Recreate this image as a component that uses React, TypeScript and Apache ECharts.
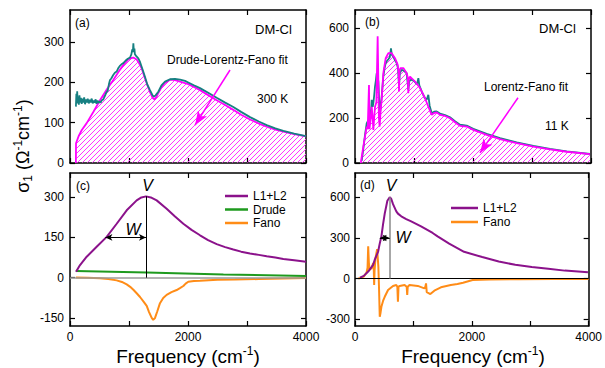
import React, { useEffect, useRef } from 'react';
import * as echarts from 'echarts';

const FONT = '"Liberation Sans", Arial, Helvetica, sans-serif';

// ---------- Panel (a): DM-Cl 300 K ----------
const expA: [number, number][] = [
  [100, 140], [108, 172], [115, 150], [122, 178], [130, 148], [140, 165], [150, 145], [160, 168],
  [172, 150], [185, 162], [198, 147], [210, 160], [225, 150], [240, 163], [255, 146], [270, 158],
  [285, 150], [300, 160], [318, 148], [335, 157], [350, 150], [368, 160], [385, 148], [400, 155],
  [418, 150], [435, 158], [450, 147], [468, 155], [485, 149], [500, 153], [520, 150], [540, 156],
  [565, 158], [590, 166], [615, 175], [640, 180], [660, 196], [678, 206], [700, 210], [730, 218],
  [760, 224], [791, 227], [820, 236], [850, 242], [880, 246], [904, 248], [940, 254], [980, 259],
  [1017, 262], [1040, 270], [1055, 282], [1065, 275], [1074, 297], [1082, 278], [1092, 284],
  [1100, 270], [1120, 266], [1158, 260], [1187, 251], [1230, 232], [1271, 214], [1310, 195],
  [1356, 181], [1400, 168], [1424, 165], [1450, 168], [1497, 177], [1550, 193], [1610, 202],
  [1695, 208], [1780, 209], [1865, 207], [1950, 204], [2005, 200], [2100, 193], [2204, 186],
  [2350, 174], [2486, 162], [2630, 150], [2768, 139], [2900, 127], [3051, 114], [3200, 103],
  [3334, 94], [3480, 86], [3616, 80], [3800, 73], [4000, 67],
];
const fitA: [number, number][] = [
  [100, 0], [102, 49], [150, 68], [200, 82], [283, 99], [400, 128], [508, 156], [620, 182],
  [734, 206], [848, 232], [904, 243], [989, 257], [1045, 261], [1074, 262], [1130, 257],
  [1158, 251], [1215, 235], [1271, 210], [1300, 198], [1356, 176], [1400, 162], [1430, 158],
  [1469, 165], [1497, 174], [1554, 189], [1610, 199], [1695, 207], [1780, 206], [1865, 202],
  [2005, 196], [2100, 189], [2204, 181], [2350, 168], [2486, 156], [2630, 144], [2768, 132],
  [2900, 120], [3051, 108], [3200, 98], [3334, 90], [3480, 83], [3616, 78], [3800, 72], [4000, 66],
];

// ---------- Panel (b): DM-Cl 11 K ----------
const expB: [number, number][] = [
  [113, 10], [140, 60], [170, 125], [198, 176], [226, 191], [240, 175], [254, 236], [270, 215],
  [283, 281], [300, 250], [311, 266], [325, 300], [339, 340], [355, 370], [367, 399], [380, 390],
  [396, 362], [410, 280], [424, 221], [440, 260], [452, 295], [466, 340], [480, 384], [500, 420],
  [520, 444], [545, 455], [565, 461], [590, 470], [610, 510], [625, 480], [650, 473], [680, 455],
  [706, 444], [730, 420], [746, 340], [760, 400], [791, 414], [830, 410], [876, 399], [904, 325],
  [920, 365], [960, 370], [1010, 362], [1050, 350], [1074, 377], [1090, 345], [1130, 318],
  [1180, 290], [1215, 281], [1243, 303], [1265, 255], [1300, 221], [1340, 228], [1384, 229],
  [1441, 220], [1526, 213], [1610, 203], [1700, 185], [1780, 170], [1893, 166], [2005, 152],
  [2232, 130], [2458, 111], [2740, 92], [3023, 76], [3305, 63], [3588, 52], [3983, 40],
];
const fitB: [number, number][] = [
  [100, 0], [102, 6], [141, 73], [198, 162], [215, 150], [237, 347], [245, 150], [271, 206],
  [283, 250], [300, 200], [311, 147], [325, 200], [339, 250], [362, 270], [384, 563], [405, 200],
  [418, 162], [435, 236], [452, 282], [480, 399], [520, 466], [565, 488], [622, 488], [678, 466],
  [723, 437], [740, 400], [746, 318], [752, 400], [768, 422], [819, 422], [876, 399], [895, 380],
  [904, 310], [912, 370], [932, 384], [1017, 362], [1102, 333], [1187, 288], [1243, 250],
  [1300, 214], [1340, 222], [1384, 225], [1441, 214], [1526, 209], [1610, 199], [1700, 180],
  [1780, 165], [1893, 162], [2005, 147], [2232, 125], [2458, 106], [2740, 88], [3023, 73],
  [3305, 61], [3588, 50], [3983, 39],
];

// ---------- Panel (c): 300 K decomposition ----------
const l12C: [number, number][] = [
  [102, 22], [170, 47], [283, 78], [452, 115], [622, 152], [791, 201], [961, 251], [1130, 288],
  [1210, 299], [1288, 303], [1370, 299], [1469, 288], [1638, 257], [1780, 228], [1921, 201],
  [2060, 178], [2204, 158], [2340, 140], [2486, 125], [2630, 114], [2768, 105], [2900, 97],
  [3051, 90], [3200, 85], [3334, 80], [3480, 75], [3616, 70], [3800, 65], [4000, 59],
];
const drudeC: [number, number][] = [[100, 25], [1300, 19], [2600, 12], [4000, 6]];
const fanoC: [number, number][] = [
  [100, 1], [300, 0], [508, -2], [650, -5], [791, -10], [880, -16], [961, -25], [1020, -34],
  [1074, -45], [1130, -58], [1187, -72], [1250, -90], [1300, -105], [1340, -128], [1385, -150],
  [1410, -157], [1441, -150], [1480, -125], [1525, -95], [1580, -76], [1638, -64], [1720, -54],
  [1808, -46], [1870, -38], [1921, -31], [1960, -22], [2005, -15], [2100, -12], [2204, -11],
  [2500, -8], [2800, -7], [3200, -5], [3600, -3], [4000, -1],
];

// ---------- Panel (d): 11 K decomposition ----------
const l12D: [number, number][] = [
  [85, 7], [150, 20], [226, 52], [311, 102], [339, 140], [396, 200], [424, 260], [452, 312],
  [480, 400], [509, 480], [554, 575], [594, 601], [620, 590], [651, 550], [707, 497], [735, 480],
  [792, 460], [877, 440], [962, 423], [1046, 405], [1131, 386], [1329, 337], [1414, 312],
  [1612, 258], [1697, 238], [1867, 198], [2178, 159], [2461, 126], [2744, 102], [3026, 85],
  [3309, 72], [3592, 59], [3988, 47],
];
const fanoD: [number, number][] = [
  [57, 0], [150, 15], [198, 45], [215, 80], [226, 238], [237, 120], [249, 65], [283, 77],
  [311, 114], [322, 60], [328, -47], [335, 60], [351, 151], [379, 218], [390, 150], [400, 89],
  [412, -80], [424, -282], [438, -250], [452, -208], [480, -165], [509, -134], [566, -84],
  [651, -54], [707, -47], [725, -60], [735, -171], [745, -60], [764, -54], [849, -47], [885, -60],
  [894, -121], [903, -60], [933, -47], [1075, -54], [1188, -72], [1205, -60], [1216, -35],
  [1228, -100], [1290, -114], [1358, -89], [1471, -64], [1640, -47], [1754, -40], [1850, -30],
  [2014, -10], [2300, -6], [2800, -4], [3400, -3], [4000, -2],
];

// ---------- Axis ranges / ticks ----------
const xRange: [number, number] = [0, 4000];
const xTicks = [0, 1000, 2000, 3000, 4000];
const xLabels = [0, 2000, 4000];
const yRanges: [number, number][] = [[0, 380], [0, 680], [-180, 390], [-350, 780]];
const yTicks = [[0, 100, 200, 300], [0, 200, 400, 600], [-150, 0, 150, 300], [-300, 0, 300, 600]];

// Annotation values (data space)
const peakC = { f: 1288, v: 303, wFrom: 600, wAt: 150 };
const peakD = { f: 594, v: 601, wFrom: 424, wAt: 300 };
const arrowA = [[2712, 231], [2119, 94]];
const arrowB = [[2763, 290], [2119, 45]];

const C = {
  teal: '#178082',
  magenta: '#ff00ff',
  hatch: '#ff33ff',
  purple: '#8b128b',
  green: '#1e9a1e',
  orange: '#ff8c17',
};

// Hatch (///) under a curve: lines drawn in pixel space, from the library's coordinate conversion.
function hatchRender(fit: [number, number][], spacing: number) {
  return (_params: any, api: any) => {
    const pts = fit.map((p) => api.coord(p) as number[]);
    const base = (api.coord([0, 0]) as number[])[1];
    const x0 = pts[0][0];
    const x1 = pts[pts.length - 1][0];
    const step = 0.5;
    const n = Math.floor((x1 - x0) / step) + 1;
    const top: number[] = new Array(n);
    let seg = 0;
    for (let i = 0; i < n; i++) {
      const x = x0 + i * step;
      while (seg < pts.length - 2 && pts[seg + 1][0] < x) seg++;
      const a = pts[seg];
      const b = pts[seg + 1];
      const t = b[0] === a[0] ? 1 : Math.min(1, Math.max(0, (x - a[0]) / (b[0] - a[0])));
      top[i] = a[1] + (b[1] - a[1]) * t;
    }
    let yMin = Infinity;
    pts.forEach((p) => { if (p[1] < yMin) yMin = p[1]; });
    const children: any[] = [];
    const cStart = Math.floor((x0 + yMin) / spacing) * spacing;
    for (let c = cStart; c <= x1 + base; c += spacing) {
      let start: number[] | null = null;
      let prev: number[] | null = null;
      for (let i = 0; i < n; i++) {
        const x = x0 + i * step;
        const y = c - x;
        const inside = y <= base && y >= top[i];
        if (inside && !start) start = [x, y];
        if (!inside && start && prev) {
          children.push([start, prev]);
          start = null;
        }
        prev = [x, y];
      }
      if (start && prev) children.push([start, prev]);
    }
    return {
      type: 'group',
      children: children.map(([a, b]) => ({
        type: 'line',
        shape: { x1: a[0], y1: a[1], x2: b[0], y2: b[1] },
        style: { stroke: C.hatch, lineWidth: 1 },
        silent: true,
      })),
    };
  };
}

const grids = [
  { left: 70, top: 10, width: 236, height: 153 },
  { left: 355, top: 10, width: 236, height: 153 },
  { left: 70, top: 173, width: 236, height: 153 },
  { left: 355, top: 173, width: 236, height: 153 },
];

export default function App() {
  const ref = useRef<HTMLDivElement>(null);
  useEffect(() => {
    const chart = echarts.init(ref.current!, null, { renderer: 'svg' });
    const axLine = { show: true, onZero: false, lineStyle: { color: '#000', width: 1.5 } };
    const tickStyle = { color: '#000', width: 1.2 };
    const xAxis: any[] = [];
    const yAxis: any[] = [];
    grids.forEach((_, i) => {
      ['bottom', 'top'].forEach((pos) => {
        xAxis.push({
          type: 'value', gridIndex: i, min: xRange[0], max: xRange[1], position: pos,
          axisLine: axLine,
          axisTick: { show: true, inside: true, length: 5, customValues: xTicks, lineStyle: tickStyle },
          axisLabel: {
            show: pos === 'bottom' && i >= 2, customValues: xLabels, fontSize: 12, color: '#000',
            fontFamily: FONT, margin: 5, formatter: (v: number) => String(v),
          },
          splitLine: { show: false },
        });
      });
      ['left', 'right'].forEach((pos) => {
        yAxis.push({
          type: 'value', gridIndex: i, min: yRanges[i][0], max: yRanges[i][1], position: pos,
          axisLine: axLine,
          axisTick: { show: true, inside: true, length: 5, customValues: yTicks[i], lineStyle: tickStyle },
          axisLabel: {
            show: pos === 'left', customValues: yTicks[i], fontSize: 12, color: '#000',
            fontFamily: FONT, margin: i === 3 ? 5 : 6, formatter: (v: number) => String(v),
          },
          splitLine: { show: false },
        });
      });
    });

    const line = (name: string, g: number, data: any, color: string, width = 2, extra: any = {}) => ({
      type: 'line', name, xAxisIndex: 2 * g, yAxisIndex: 2 * g, data, showSymbol: false,
      symbol: 'none', color, itemStyle: { color }, lineStyle: { color, width }, silent: true,
      ...extra,
    });
    const hatchSeries = (name: string, g: number, fit: [number, number][]) => ({
      type: 'custom', name, xAxisIndex: 2 * g, yAxisIndex: 2 * g, data: [[0, 0]],
      renderItem: hatchRender(fit, 5), clip: true, silent: true, z: 1,
    });
    const mk = (data: any[]) => ({ silent: true, symbol: 'none', label: { show: false }, animation: false, data });

    const series: any[] = [
      // (a)
      hatchSeries('hatchA', 0, fitA),
      line('fitA', 0, fitA, C.magenta, 1.8, {
        markLine: mk([[
          { coord: arrowA[0], symbol: 'none' },
          { coord: arrowA[1], symbol: 'arrow', symbolSize: [8, 14], lineStyle: { color: C.magenta, width: 1.5, type: 'solid' } },
        ]]),
      }),
      line('expA', 0, expA, C.teal, 1.8),
      // (b)
      hatchSeries('hatchB', 1, fitB),
      line('expB', 1, expB, C.teal, 1.8),
      line('fitB', 1, fitB, C.magenta, 1.8, {
        markLine: mk([[
          { coord: arrowB[0], symbol: 'none' },
          { coord: arrowB[1], symbol: 'arrow', symbolSize: [8, 14], lineStyle: { color: C.magenta, width: 1.5, type: 'solid' } },
        ]]),
      }),
      // (c)
      line('Drude', 2, drudeC, C.green, 2),
      line('Fano', 2, fanoC, C.orange, 2),
      line('L1+L2', 2, l12C, C.purple, 2, {
        markLine: mk([
          { yAxis: 0, lineStyle: { color: '#9a9a9a', width: 1.5, type: 'solid' } },
          [
            { coord: [peakC.f, 0] },
            { coord: [peakC.f, peakC.v], lineStyle: { color: '#000', width: 1, type: 'solid' } },
          ],
          [
            { coord: [peakC.wFrom, peakC.wAt], symbol: 'arrow', symbolSize: [5, 7] },
            { coord: [peakC.f, peakC.wAt], symbol: 'arrow', symbolSize: [5, 7], lineStyle: { color: '#000', width: 1, type: 'solid' } },
          ],
        ]),
      }),
      // (d)
      line('Fano', 3, fanoD, C.orange, 2),
      line('L1+L2', 3, l12D, C.purple, 2, {
        markLine: mk([
          { yAxis: 0, lineStyle: { color: '#000', width: 1, type: 'solid' } },
          [
            { coord: [peakD.f, 0] },
            { coord: [peakD.f, peakD.v], lineStyle: { color: '#8a8a8a', width: 1.5, type: 'solid' } },
          ],
          [
            { coord: [peakD.wFrom, peakD.wAt], symbol: 'arrow', symbolSize: [5, 7] },
            { coord: [peakD.f, peakD.wAt], symbol: 'arrow', symbolSize: [5, 7], lineStyle: { color: '#000', width: 1, type: 'solid' } },
          ],
        ]),
      }),
    ];

    const txt = (text: string, x: number, y: number, opts: any = {}) => ({
      type: 'text', x, y, silent: true,
      style: {
        text, fill: '#000', fontSize: 12, fontFamily: FONT,
        align: 'left', verticalAlign: 'middle', textAlign: 'left', textVerticalAlign: 'middle',
        ...opts,
      },
    });
    const center = { align: 'center', textAlign: 'center' };
    const italic = { fontSize: 16, fontStyle: 'italic', ...center };

    const freqTitle = (x: number) => ({
      type: 'text', x, y: 356, silent: true,
      style: {
        text: '{a|Frequency (cm}{s|-1}{a|)}',
        align: 'center', verticalAlign: 'middle', textAlign: 'center', textVerticalAlign: 'middle',
        fill: '#000', fontFamily: FONT, fontSize: 19,
        rich: {
          a: { fontSize: 19, fontFamily: FONT, fill: '#000', color: '#000', lineHeight: 22 },
          s: { fontSize: 12, fontFamily: FONT, fill: '#000', color: '#000', lineHeight: 15, verticalAlign: 'top' },
        },
      },
    });

    const option: any = {
      animation: false,
      backgroundColor: '#fff',
      grid: grids.map((g) => ({ ...g, containLabel: false })),
      xAxis,
      yAxis,
      series,
      legend: [
        {
          data: ['L1+L2', 'Drude', 'Fano'], orient: 'vertical', left: 225, top: 189.5,
          itemWidth: 23, itemHeight: 2.5, itemGap: 0.5, icon: 'rect', selectedMode: false, padding: 0,
          textStyle: { fontSize: 12, color: '#000', fontFamily: FONT, lineHeight: 13 },
        },
        {
          data: ['L1+L2', 'Fano'], orient: 'vertical', left: 451, top: 201.5,
          itemWidth: 27, itemHeight: 2.5, itemGap: 1, icon: 'rect', selectedMode: false, padding: 0,
          textStyle: { fontSize: 12, color: '#000', fontFamily: FONT, lineHeight: 13 },
        },
      ],
      graphic: {
        elements: [
          txt('(a)', 75, 23),
          txt('DM-Cl', 255, 29, { fontSize: 13 }),
          txt('Drude-Lorentz-Fano fit', 167, 60),
          txt('300 K', 257, 99),
          txt('(b)', 365, 22),
          txt('DM-Cl', 539, 28, { fontSize: 13 }),
          txt('Lorentz-Fano fit', 484, 87),
          txt('11 K', 545, 126),
          txt('(c)', 76, 186),
          txt('(d)', 360, 185),
          txt('V', 147.5, 185, italic),
          txt('W', 133, 229, italic),
          txt('V', 391, 185.5, italic),
          txt('W', 403, 237, italic),
          freqTitle(188),
          freqTitle(473),
          {
            type: 'text', x: 23, y: 146, rotation: Math.PI / 2, silent: true,
            style: {
              text: '{a|σ}{b|1}{a| (Ω}{c|-1}{a|cm}{c|-1}{a|)}',
              align: 'center', verticalAlign: 'middle', textAlign: 'center', textVerticalAlign: 'middle',
              fill: '#000', fontFamily: FONT, fontSize: 18,
              rich: {
                a: { fontSize: 18, fontFamily: FONT, fill: '#000', color: '#000', lineHeight: 22 },
                b: { fontSize: 12, fontFamily: FONT, fill: '#000', color: '#000', lineHeight: 14, verticalAlign: 'bottom' },
                c: { fontSize: 12, fontFamily: FONT, fill: '#000', color: '#000', lineHeight: 15, verticalAlign: 'top' },
              },
            },
          },
        ],
      },
    };
    chart.setOption(option);
    return () => chart.dispose();
  }, []);
  return (
    <div
      ref={ref}
      style={{ position: 'fixed', left: 0, top: 0, width: 605, height: 368, background: '#fff' }}
    />
  );
}
